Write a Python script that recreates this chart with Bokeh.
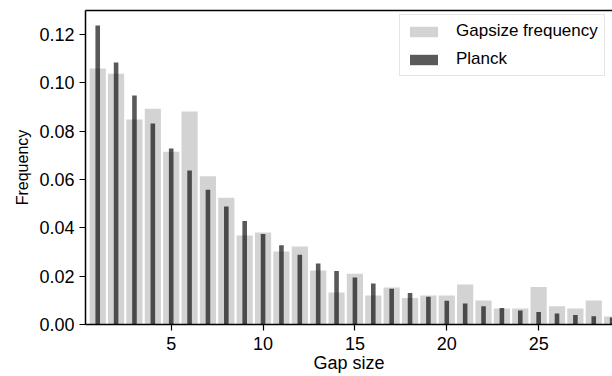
from bokeh.plotting import figure
from bokeh.models import (Range1d, FixedTicker, NumeralTickFormatter, LinearAxis,
                          ColumnDataSource)
from bokeh.embed import file_html
from bokeh.resources import INLINE

gap_size = [1, 2, 3, 4, 5, 6, 7, 8, 9, 10, 11, 12, 13, 14, 15, 16, 17, 18, 19, 20,
            21, 22, 23, 24, 25, 26, 27, 28, 29]
gapsize_frequency = [0.1060, 0.1038, 0.0849, 0.0893, 0.0715, 0.0882, 0.0614, 0.0525,
                     0.0368, 0.0381, 0.0302, 0.0323, 0.0224, 0.0132, 0.0210, 0.0120,
                     0.0153, 0.0110, 0.0120, 0.0120, 0.0166, 0.0099, 0.0066, 0.0066,
                     0.0155, 0.0076, 0.0066, 0.0099, 0.0033]
planck = [0.1238, 0.1085, 0.0948, 0.0832, 0.0729, 0.0638, 0.0558, 0.0489, 0.0429,
          0.0375, 0.0328, 0.0289, 0.0253, 0.0222, 0.0195, 0.0170, 0.0148, 0.0130,
          0.0115, 0.0098, 0.0087, 0.0076, 0.0068, 0.0058, 0.0052, 0.0046, 0.0039,
          0.0034, 0.0029]
x_ticks = [5, 10, 15, 20, 25]
y_ticks = [0.00, 0.02, 0.04, 0.06, 0.08, 0.10, 0.12]

src = ColumnDataSource(dict(x=gap_size, g=gapsize_frequency, p=planck))

FONT = "Liberation Sans"

p = figure(width=612, height=376, output_backend="svg", toolbar_location=None,
           x_range=Range1d(0.335, 29.02), y_range=Range1d(0, 0.130),
           min_border_left=85, min_border_right=0, min_border_top=10, min_border_bottom=52)

p.vbar(x="x", top="g", width=0.88, source=src, fill_color="#d3d3d3", line_color=None,
       legend_label="Gapsize frequency")
p.vbar(x="x", top="p", width=0.25, source=src, fill_color="black", fill_alpha=0.65,
       line_color=None, legend_label="Planck")

p.grid.visible = False
p.outline_line_color = None
p.background_fill_color = "white"

for ax in (p.xaxis[0], p.yaxis[0]):
    ax.axis_line_color = "black"
    ax.axis_line_width = 1.5
    ax.major_tick_line_color = "black"
    ax.major_tick_line_width = 1.2
    ax.major_tick_out = 6
    ax.major_tick_in = 0
    ax.minor_tick_line_color = None
    ax.major_label_text_font = FONT
    ax.major_label_text_font_size = "18px"
    ax.major_label_text_color = "black"
    ax.axis_label_text_font = FONT
    ax.axis_label_text_font_style = "normal"
    ax.axis_label_text_color = "black"

p.xaxis[0].ticker = FixedTicker(ticks=x_ticks)
p.xaxis[0].axis_label = "Gap size"
p.xaxis[0].axis_label_text_font_size = "18px"
p.xaxis[0].major_label_standoff = 6
p.xaxis[0].axis_label_standoff = 0

p.yaxis[0].ticker = FixedTicker(ticks=y_ticks)
p.yaxis[0].formatter = NumeralTickFormatter(format="0.00")
p.yaxis[0].axis_label = "Frequency"
p.yaxis[0].axis_label_text_font_size = "16px"
p.yaxis[0].major_label_standoff = 5
p.yaxis[0].axis_label_standoff = 5

top_axis = LinearAxis(ticker=FixedTicker(ticks=[]), axis_line_color="black",
                      axis_line_width=1.5, major_tick_line_color=None,
                      minor_tick_line_color=None, major_label_text_font_size="0px")
p.add_layout(top_axis, "above")

lg = p.legend[0]
lg.location = (314, 248)
lg.label_text_font = FONT
lg.label_text_font_size = "17px"
lg.label_text_color = "black"
lg.glyph_width = 35
lg.glyph_height = 13
lg.label_height = 17
lg.label_standoff = 15
lg.spacing = 8
lg.padding = 6
lg.margin = 0
lg.border_line_color = "#cccccc"
lg.border_line_width = 1
lg.background_fill_alpha = 0.8

open("out.html", "w").write(file_html(p, INLINE))
